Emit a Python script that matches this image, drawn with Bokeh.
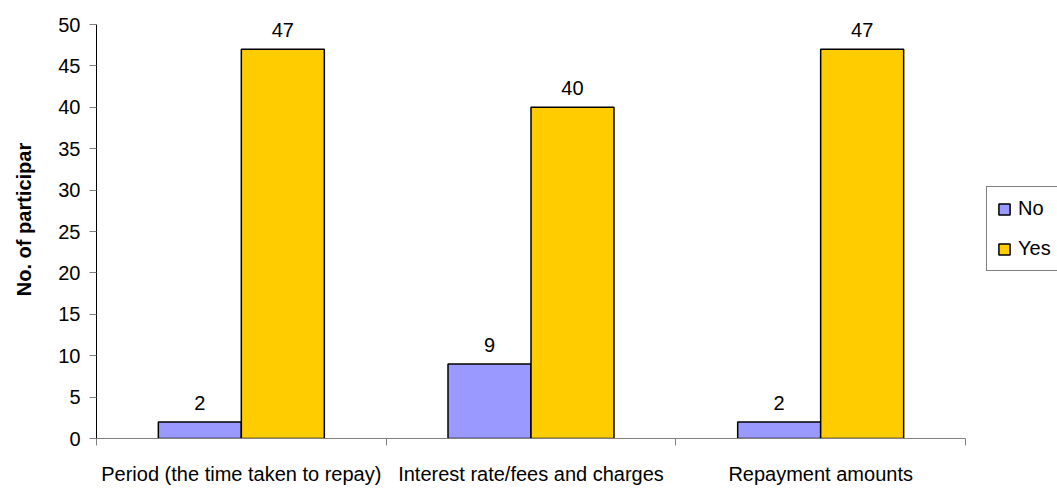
from bokeh.plotting import figure
from bokeh.models import (ColumnDataSource, Range1d, FixedTicker, Legend, LegendItem)
from bokeh.core.properties import value
from bokeh.embed import file_html
from bokeh.resources import INLINE

categories = ["Period (the time taken to repay)", "Interest rate/fees and charges", "Repayment amounts"]
no_values = [2, 9, 2]
yes_values = [47, 40, 47]
y_ticks = [0, 5, 10, 15, 20, 25, 30, 35, 40, 45, 50]

NO_COLOR = "#9999FF"
YES_COLOR = "#FFCC00"
FONT = "Liberation Sans"
BAR_W = 0.2865

# the axes stop at 50 and at the last category; the frame runs on past them
# so the value labels and the legend sit inside it
Y_MAX = 50
Y_VIEW_TOP = Y_MAX * 438 / 414
N_CAT = len(categories)
X_VIEW_END = N_CAT * 961 / 869

idx = list(range(N_CAT))
centers = [i + 0.5 for i in idx]

no_src = ColumnDataSource(dict(
    x=[c - BAR_W / 2 for c in centers], top=no_values,
    label=[str(v) for v in no_values]))
yes_src = ColumnDataSource(dict(
    x=[c + BAR_W / 2 for c in centers], top=yes_values,
    label=[str(v) for v in yes_values]))

p = figure(width=1057, height=488, output_backend="svg", toolbar_location=None,
           x_range=Range1d(0, X_VIEW_END), y_range=Range1d(0, Y_VIEW_TOP),
           min_border_left=96, min_border_right=0, min_border_top=0,
           min_border_bottom=50)
p.outline_line_color = None
p.xgrid.visible = False
p.ygrid.visible = False
p.background_fill_color = "white"
p.border_fill_color = "white"

r_no = p.vbar(x="x", top="top", width=BAR_W, bottom=0, source=no_src,
              fill_color=NO_COLOR, line_color="black", line_width=1.5)
r_yes = p.vbar(x="x", top="top", width=BAR_W, bottom=0, source=yes_src,
               fill_color=YES_COLOR, line_color="black", line_width=1.5)

for src in (no_src, yes_src):
    p.text(x="x", y="top", text="label", source=src, text_align="center",
           text_baseline="alphabetic", y_offset=-19, text_color="black",
           text_font=value(FONT), text_font_size="20px")

# y axis
ya = p.yaxis[0]
ya.ticker = FixedTicker(ticks=y_ticks)
ya.bounds = (0, Y_MAX)
ya.axis_line_color = "black"
ya.axis_line_width = 1
ya.major_tick_line_color = "#808080"
ya.major_tick_out = 7
ya.major_tick_in = 0
ya.minor_tick_line_color = None
ya.major_label_standoff = 9
ya.major_label_text_font = FONT
ya.major_label_text_font_size = "20px"
ya.major_label_text_color = "black"
ya.axis_label = "No. of participar"
ya.axis_label_text_font = FONT
ya.axis_label_text_font_style = "bold"
ya.axis_label_text_font_size = "20px"
ya.axis_label_text_color = "black"
ya.axis_label_standoff = 20

# x axis: labels at category centres, tick marks at category boundaries
xa = p.xaxis[0]
xa.ticker = FixedTicker(ticks=centers, minor_ticks=[0] + [i + 1 for i in idx])
xa.major_label_overrides = {c: cat for c, cat in zip(centers, categories)}
xa.bounds = (0, N_CAT)
xa.axis_line_color = "#808080"
xa.major_tick_line_color = None
xa.major_tick_out = 0
xa.major_tick_in = 0
xa.minor_tick_line_color = "#808080"
xa.minor_tick_out = 7
xa.minor_tick_in = 0
xa.major_label_standoff = 17
xa.major_label_text_font = FONT
xa.major_label_text_font_size = "20px"
xa.major_label_text_color = "black"

legend = Legend(items=[LegendItem(label="No", renderers=[r_no]),
                       LegendItem(label="Yes", renderers=[r_yes])],
                location=(890, 167), orientation="vertical",
                border_line_color="black", border_line_width=1,
                background_fill_color="white", background_fill_alpha=1,
                label_text_font=FONT, label_text_font_size="20px",
                label_text_color="black", glyph_width=14, glyph_height=14,
                label_height=20, label_standoff=7, spacing=17, padding=10,
                margin=0)
p.add_layout(legend, "center")

open("out.html", "w").write(file_html(p, INLINE))
